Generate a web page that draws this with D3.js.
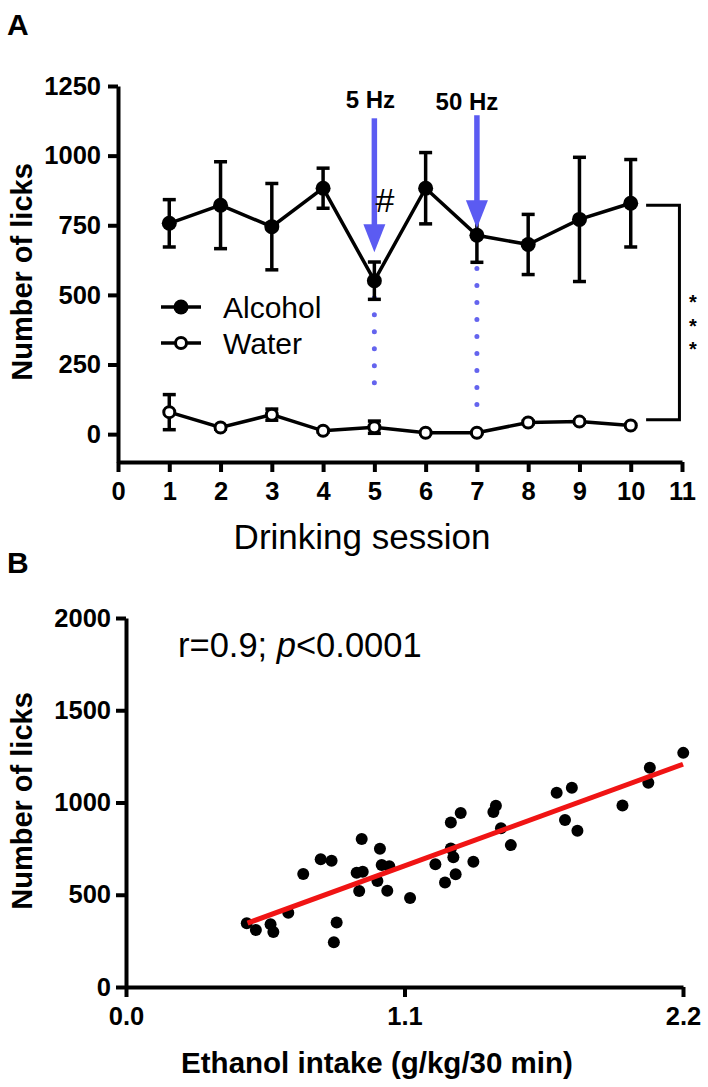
<!DOCTYPE html>
<html>
<head>
  <meta charset="utf-8">
  <style>
    body { margin: 0; background: #fff; }
    svg text { font-family: Arial, "Liberation Sans", sans-serif; }
  </style>
  <title>Number of licks by drinking session</title>
</head>
<body>
  <script src="https://cdn.jsdelivr.net/npm/d3@7/dist/d3.min.js"></script>
  <script>
    // panel A data: mean and SEM per drinking session
    var sessions = [1, 2, 3, 4, 5, 6, 7, 8, 9, 10];
    var alcoholMean = [757, 822, 745, 883, 551, 883, 714, 681, 771, 829];
    var alcoholErr = [85, 156, 155, 72, 67, 128, 97, 108, 223, 157];
    var waterMean = [79, 24, 70, 12, 25, 5, 5, 42, 45, 31];
    var waterErr = [63, 6, 20, 5, 22, 3, 3, 5, 5, 4];
    var xTicksA = [0, 1, 2, 3, 4, 5, 6, 7, 8, 9, 10, 11];
    var yTicksA = [0, 250, 500, 750, 1000, 1250];

    // stimulation markers (session, label, arrow top/tip, dotted line top/bottom)
    var stimSession = [5, 7];
    var stimLabel = ["5 Hz", "50 Hz"];
    var arrowTop = [1134, 1145];
    var arrowTip = [653, 739];
    var dotTop = [490, 595];
    var dotBottom = [185, 110];

    // panel B data: ethanol intake vs licks
    var ethanolIntake = [0.477, 0.513, 0.571, 0.582, 0.641, 0.700, 0.769, 0.812, 0.832, 0.821,
      0.931, 0.911, 0.935, 0.921, 1.003, 1.010, 1.040, 0.993, 1.032, 1.122,
      1.222, 1.260, 1.283, 1.293, 1.302, 1.283, 1.322, 1.372, 1.451, 1.461,
      1.481, 1.520, 1.701, 1.761, 1.734, 1.783, 1.961, 2.069, 2.063, 2.201];
    var licks = [345, 309, 340, 298, 403, 612, 692, 684, 350, 242,
      802, 619, 625, 520, 749, 661, 655, 574, 522, 482,
      665, 567, 751, 703, 611, 892, 943, 679, 948, 982,
      860, 769, 1053, 1080, 905, 847, 984, 1188, 1107, 1269];
    var fitRange = [0.48, 2.2];
    var fitIntercept = 106, fitSlope = 500.6;
    var xTicksB = [0, 1.1, 2.2];
    var yTicksB = [0, 500, 1000, 1500, 2000];

    var blue = "#5b5bf2";

    var svg = d3.select("body").append("svg")
      .attr("width", 708)
      .attr("height", 1087);

    // ---------- panel A ----------
    var x = d3.scaleLinear().domain([0, 11]).range([118, 682]);
    var y = d3.scaleLinear().domain([-100, 1250]).range([462, 86]);

    var gA = svg.append("g");

    function styleAxis(g) {
      g.selectAll("path, line").attr("stroke", "#000").attr("stroke-width", 4);
      g.selectAll("text")
        .attr("font-family", "Arial, 'Liberation Sans', sans-serif")
        .attr("font-size", 25.5).attr("font-weight", "bold").attr("fill", "#000");
    }

    gA.append("g")
      .attr("transform", "translate(118,0)")
      .call(d3.axisLeft(y).tickValues(yTicksA).tickFormat(d3.format("d"))
        .tickSize(10).tickSizeOuter(0).tickPadding(7))
      .call(styleAxis);

    gA.append("g")
      .attr("transform", "translate(0,462)")
      .call(d3.axisBottom(x).tickValues(xTicksA).tickSize(10).tickSizeOuter(0).tickPadding(10))
      .call(styleAxis);

    // dotted lines under stimulation arrows
    gA.selectAll(".stimdots")
      .data(stimSession)
      .enter().append("line")
      .attr("x1", function (d) { return x(d); })
      .attr("x2", function (d) { return x(d); })
      .attr("y1", function (d, i) { return y(dotTop[i]); })
      .attr("y2", function (d, i) { return y(dotBottom[i]) + 1; })
      .attr("stroke", "#6464ee")
      .attr("stroke-width", 5)
      .attr("stroke-linecap", "round")
      .attr("stroke-dasharray", "0 17");

    function drawSeries(means, errs, filled) {
      var pts = sessions.map(function (s, i) { return { s: s, m: means[i], e: errs[i] }; });
      var line = d3.line().x(function (d) { return x(d.s); }).y(function (d) { return y(d.m); });
      var g = gA.append("g");
      // error bars
      var eb = g.selectAll(".eb").data(pts).enter().append("g");
      eb.append("line")
        .attr("x1", function (d) { return x(d.s); }).attr("x2", function (d) { return x(d.s); })
        .attr("y1", function (d) { return y(d.m + d.e); }).attr("y2", function (d) { return y(d.m - d.e); })
        .attr("stroke", "#000").attr("stroke-width", 3.5);
      [1, -1].forEach(function (sign) {
        eb.append("line")
          .attr("x1", function (d) { return x(d.s) - 6.5; }).attr("x2", function (d) { return x(d.s) + 6.5; })
          .attr("y1", function (d) { return y(d.m + sign * d.e); }).attr("y2", function (d) { return y(d.m + sign * d.e); })
          .attr("stroke", "#000").attr("stroke-width", 3.5);
      });
      g.append("path").datum(pts)
        .attr("d", line).attr("fill", "none")
        .attr("stroke", "#000").attr("stroke-width", 3.5);
      g.selectAll(".pt").data(pts).enter().append("circle")
        .attr("cx", function (d) { return x(d.s); })
        .attr("cy", function (d) { return y(d.m); })
        .attr("r", filled ? 7.5 : 5.5)
        .attr("fill", filled ? "#000" : "#fff")
        .attr("stroke", "#000").attr("stroke-width", filled ? 0 : 3);
    }
    drawSeries(waterMean, waterErr, false);
    drawSeries(alcoholMean, alcoholErr, true);

    // arrows
    stimSession.forEach(function (s, i) {
      var cx = x(s), top = y(arrowTop[i]), tip = y(arrowTip[i]);
      gA.append("line")
        .attr("x1", cx).attr("x2", cx).attr("y1", top).attr("y2", tip - 25)
        .attr("stroke", blue).attr("stroke-width", 5.5);
      gA.append("path")
        .attr("d", "M" + (cx - 11) + "," + (tip - 28) + "L" + (cx + 11) + "," + (tip - 28) + "L" + cx + "," + tip + "Z")
        .attr("fill", blue);
      gA.append("text")
        .attr("x", cx - (i === 0 ? 4 : 10))
        .attr("y", top - (i === 0 ? 10 : 5))
        .attr("text-anchor", "middle")
        .attr("font-size", 24).attr("font-weight", "bold")
        .text(stimLabel[i]);
    });

    gA.append("text")
      .attr("x", 385).attr("y", 212)
      .attr("text-anchor", "middle")
      .attr("font-size", 34)
      .text("#");

    // significance bracket
    var bracketTop = 822, bracketBottom = 52;
    gA.append("path")
      .attr("d", "M" + x(10.3) + "," + y(bracketTop) + "H" + x(10.95) + "V" + y(bracketBottom) + "H" + x(10.3))
      .attr("fill", "none").attr("stroke", "#000").attr("stroke-width", 3);
    gA.selectAll(".star").data([0, 1, 2]).enter().append("text")
      .attr("x", 693).attr("y", function (d) { return 309 + d * 23.5; })
      .attr("text-anchor", "middle")
      .attr("font-size", 20).attr("font-weight", "bold")
      .text("*");

    // legend
    var legend = gA.append("g").attr("transform", "translate(161,307)");
    [["Alcohol", true], ["Water", false]].forEach(function (item, i) {
      var g = legend.append("g").attr("transform", "translate(0," + (i * 36) + ")");
      g.append("line").attr("x1", 0).attr("x2", 40).attr("stroke", "#000").attr("stroke-width", 3.5);
      g.append("circle").attr("cx", 20).attr("r", item[1] ? 7.5 : 5.5)
        .attr("fill", item[1] ? "#000" : "#fff")
        .attr("stroke", "#000").attr("stroke-width", item[1] ? 0 : 3);
      g.append("text").attr("x", 62).attr("y", 11)
        .attr("font-size", 30).text(item[0]);
    });

    gA.append("text")
      .attr("x", 362).attr("y", 549)
      .attr("text-anchor", "middle")
      .attr("font-size", 35)
      .text("Drinking session");

    gA.append("text")
      .attr("transform", "translate(32,272) rotate(-90)")
      .attr("text-anchor", "middle")
      .attr("font-size", 29).attr("font-weight", "bold")
      .text("Number of licks");

    svg.append("text").attr("x", 7).attr("y", 35)
      .attr("font-size", 30).attr("font-weight", "bold").text("A");

    // ---------- panel B ----------
    var xB = d3.scaleLinear().domain([0, 2.2]).range([126, 683]);
    var yB = d3.scaleLinear().domain([0, 2000]).range([987, 618]);
    var gB = svg.append("g");

    gB.append("g")
      .attr("transform", "translate(126,0)")
      .call(d3.axisLeft(yB).tickValues(yTicksB).tickFormat(d3.format("d"))
        .tickSize(10).tickSizeOuter(0).tickPadding(5))
      .call(styleAxis);

    gB.append("g")
      .attr("transform", "translate(0,987)")
      .call(d3.axisBottom(xB).tickValues(xTicksB).tickFormat(d3.format(".1f"))
        .tickSize(10).tickSizeOuter(0).tickPadding(10))
      .call(styleAxis);

    gB.selectAll(".dot")
      .data(ethanolIntake)
      .enter().append("circle")
      .attr("cx", function (d) { return xB(d); })
      .attr("cy", function (d, i) { return yB(licks[i]); })
      .attr("r", 6)
      .attr("fill", "#000");

    gB.append("line")
      .attr("x1", xB(fitRange[0])).attr("y1", yB(fitIntercept + fitSlope * fitRange[0]))
      .attr("x2", xB(fitRange[1])).attr("y2", yB(fitIntercept + fitSlope * fitRange[1]))
      .attr("stroke", "#f01414").attr("stroke-width", 5);

    var stat = gB.append("text").attr("x", 178).attr("y", 657).attr("font-size", 34.5);
    stat.append("tspan").text("r=0.9; ");
    stat.append("tspan").attr("font-style", "italic").text("p");
    stat.append("tspan").text("<0.0001");

    gB.append("text")
      .attr("x", 377).attr("y", 1073)
      .attr("text-anchor", "middle")
      .attr("font-size", 29.5).attr("font-weight", "bold")
      .text("Ethanol intake (g/kg/30 min)");

    gB.append("text")
      .attr("transform", "translate(32,801) rotate(-90)")
      .attr("text-anchor", "middle")
      .attr("font-size", 29).attr("font-weight", "bold")
      .text("Number of licks");

    svg.append("text").attr("x", 7).attr("y", 573)
      .attr("font-size", 30).attr("font-weight", "bold").text("B");
  </script>
</body>
</html>
